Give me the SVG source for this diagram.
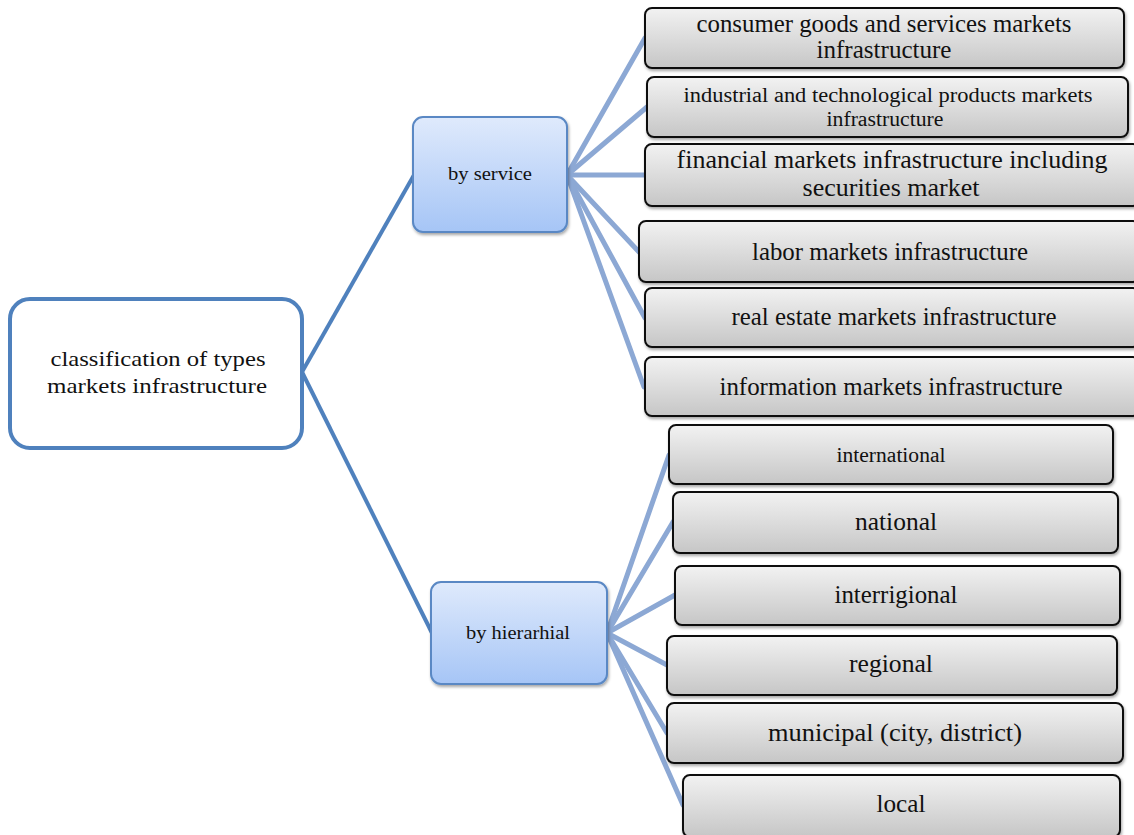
<svg xmlns="http://www.w3.org/2000/svg" width="1134" height="835" viewBox="0 0 1134 835">
<defs>
<linearGradient id="gray" x1="0" y1="0" x2="0" y2="1">
<stop offset="0" stop-color="#f2f2f2"/>
<stop offset="1" stop-color="#c6c6c6"/>
</linearGradient>
<linearGradient id="blue" x1="0" y1="0" x2="0" y2="1">
<stop offset="0" stop-color="#dfeafc"/>
<stop offset="1" stop-color="#a6c5f6"/>
</linearGradient>
<filter id="sh" x="-10%" y="-10%" width="120%" height="130%">
<feDropShadow dx="1" dy="2" stdDeviation="1.5" flood-color="#000" flood-opacity="0.35"/>
</filter>
</defs>
<style>
text{font-family:"Liberation Serif","Times New Roman",serif;fill:#111;text-anchor:middle}
.leaf{fill:url(#gray);stroke:#111;stroke-width:2;filter:url(#sh)}
.mid{fill:url(#blue);stroke:#5a88c4;stroke-width:2;filter:url(#sh)}
.root{fill:#fff;stroke:#4f81bd;stroke-width:4}
.c1{stroke:#4f81bd;stroke-width:4;fill:none}
.c2{stroke:#8ca8d4;stroke-width:5;fill:none;stroke-linecap:round}
</style>
<rect width="1134" height="835" fill="#fff"/>
<g id="connectors">
<line class="c1" x1="302" y1="372" x2="414" y2="175"/>
<line class="c1" x1="302" y1="372" x2="432" y2="633"/>
<line class="c2" x1="567" y1="175" x2="645" y2="38"/>
<line class="c2" x1="567" y1="175" x2="647" y2="107"/>
<line class="c2" x1="567" y1="175" x2="645" y2="175"/>
<line class="c2" x1="567" y1="175" x2="639" y2="252"/>
<line class="c2" x1="567" y1="175" x2="645" y2="318"/>
<line class="c2" x1="567" y1="175" x2="644" y2="387"/>
<line class="c2" x1="607" y1="633" x2="669" y2="455"/>
<line class="c2" x1="607" y1="633" x2="673" y2="522"/>
<line class="c2" x1="607" y1="633" x2="675" y2="595"/>
<line class="c2" x1="607" y1="633" x2="667" y2="665"/>
<line class="c2" x1="607" y1="633" x2="667" y2="733"/>
<line class="c2" x1="607" y1="633" x2="683" y2="805"/>
</g>
<g id="root">
<rect class="root" x="10" y="299" width="292" height="149" rx="20"/>
<text x="158" y="366" font-size="22" textLength="215" lengthAdjust="spacingAndGlyphs">classification of types</text>
<text x="157" y="393" font-size="22" textLength="220" lengthAdjust="spacingAndGlyphs">markets infrastructure</text>
</g>
<g id="by-service">
<rect class="mid" x="413" y="117" width="154" height="115" rx="10"/>
<text x="490" y="180" font-size="18" textLength="84" lengthAdjust="spacingAndGlyphs">by service</text>
</g>
<g id="by-hierarhial">
<rect class="mid" x="431" y="582" width="176" height="102" rx="10"/>
<text x="518" y="639" font-size="18" textLength="104" lengthAdjust="spacingAndGlyphs">by hierarhial</text>
</g>
<g id="consumer">
<rect class="leaf" x="645" y="8" width="479" height="60" rx="7"/>
<text x="884" y="32" font-size="25" textLength="375" lengthAdjust="spacingAndGlyphs">consumer goods and services markets</text>
<text x="884" y="58" font-size="25" textLength="135" lengthAdjust="spacingAndGlyphs">infrastructure</text>
</g>
<g id="industrial">
<rect class="leaf" x="647" y="77" width="481" height="60" rx="7"/>
<text x="888" y="102" font-size="20" textLength="409" lengthAdjust="spacingAndGlyphs">industrial and technological products markets</text>
<text x="885" y="126" font-size="20" textLength="117" lengthAdjust="spacingAndGlyphs">infrastructure</text>
</g>
<g id="financial">
<rect class="leaf" x="645" y="144" width="495" height="62" rx="7"/>
<text x="892" y="168" font-size="26" textLength="431" lengthAdjust="spacingAndGlyphs">financial markets infrastructure including</text>
<text x="891" y="196" font-size="26" textLength="177" lengthAdjust="spacingAndGlyphs">securities market</text>
</g>
<g id="labor">
<rect class="leaf" x="639" y="221" width="501" height="61" rx="7"/>
<text x="890" y="260" font-size="25" textLength="276" lengthAdjust="spacingAndGlyphs">labor markets infrastructure</text>
</g>
<g id="real-estate">
<rect class="leaf" x="645" y="288" width="495" height="59" rx="7"/>
<text x="894" y="325" font-size="25" textLength="325" lengthAdjust="spacingAndGlyphs">real estate markets infrastructure</text>
</g>
<g id="information">
<rect class="leaf" x="645" y="357" width="495" height="59" rx="7"/>
<text x="891" y="395" font-size="25" textLength="343" lengthAdjust="spacingAndGlyphs">information markets infrastructure</text>
</g>
<g id="international">
<rect class="leaf" x="669" y="425" width="444" height="59" rx="7"/>
<text x="891" y="462" font-size="20" textLength="109" lengthAdjust="spacingAndGlyphs">international</text>
</g>
<g id="national">
<rect class="leaf" x="673" y="492" width="445" height="61" rx="7"/>
<text x="896" y="530" font-size="25" textLength="82" lengthAdjust="spacingAndGlyphs">national</text>
</g>
<g id="interrigional">
<rect class="leaf" x="675" y="566" width="445" height="59" rx="7"/>
<text x="896" y="603" font-size="25" textLength="123" lengthAdjust="spacingAndGlyphs">interrigional</text>
</g>
<g id="regional">
<rect class="leaf" x="667" y="636" width="450" height="59" rx="7"/>
<text x="891" y="672" font-size="25" textLength="84" lengthAdjust="spacingAndGlyphs">regional</text>
</g>
<g id="municipal">
<rect class="leaf" x="667" y="703" width="456" height="60" rx="7"/>
<text x="895" y="741" font-size="25" textLength="254" lengthAdjust="spacingAndGlyphs">municipal (city, district)</text>
</g>
<g id="local">
<rect class="leaf" x="683" y="775" width="437" height="62" rx="7"/>
<text x="901" y="812" font-size="26" textLength="49" lengthAdjust="spacingAndGlyphs">local</text>
</g>
</svg>
